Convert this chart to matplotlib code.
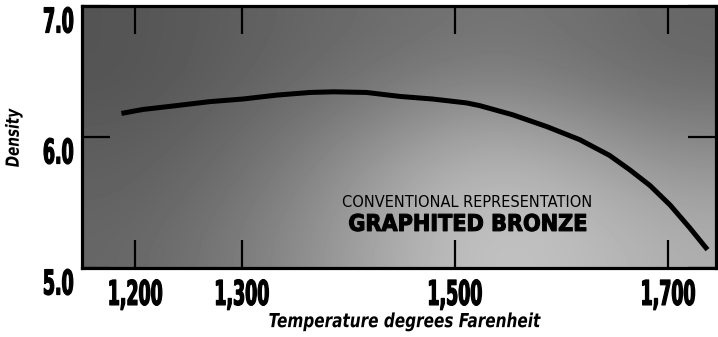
import numpy as np
import matplotlib
matplotlib.use("Agg")
import matplotlib.pyplot as plt
from matplotlib.patheffects import AbstractPathEffect
from matplotlib.transforms import Affine2D

# ---- data ----
temperature_f = [1187, 1207, 1239, 1270, 1301, 1333, 1364, 1386, 1417, 1448, 1479,
                 1511, 1523, 1554, 1586, 1617, 1645, 1664, 1683, 1702, 1720, 1737]
density = [6.18, 6.21, 6.24, 6.27, 6.29, 6.32, 6.34, 6.345, 6.34, 6.31, 6.29,
           6.26, 6.24, 6.17, 6.08, 5.98, 5.86, 5.75, 5.63, 5.48, 5.31, 5.14]

x_ticks = [1200, 1300, 1500, 1700]
x_tick_labels = ["1,200", "1,300", "1,500", "1,700"]
y_ticks = [5.0, 6.0, 7.0]
y_tick_labels = ["5.0", "6.0", "7.0"]

x_label = "Temperature degrees Farenheit"
y_label = "Density"
note_small = "CONVENTIONAL REPRESENTATION"
note_big = "GRAPHITED BRONZE"

# background shading (approximate average tone of the stipple)
shade = np.array([
    [0.33, 0.36, 0.40, 0.43, 0.46, 0.44, 0.40],
    [0.33, 0.37, 0.42, 0.48, 0.53, 0.48, 0.43],
    [0.36, 0.40, 0.48, 0.58, 0.66, 0.60, 0.52],
    [0.38, 0.43, 0.53, 0.66, 0.74, 0.70, 0.62],
    [0.40, 0.46, 0.56, 0.68, 0.77, 0.74, 0.68],
])


class Stretch(AbstractPathEffect):
    """Draw text glyphs tall/condensed and optionally heavier (text stays real text)."""

    def __init__(self, sx=1.0, sy=1.0, hanchor="center", vanchor="center", heavy=0.0):
        super().__init__()
        self.sx, self.sy = sx, sy
        self.hanchor, self.vanchor = hanchor, vanchor
        self.heavy = heavy

    def draw_path(self, renderer, gc, tpath, affine, rgbFace=None):
        ext = tpath.get_extents()
        cx = {"left": ext.x0, "right": ext.x1}.get(self.hanchor, 0.5 * (ext.x0 + ext.x1))
        cy = {"bottom": ext.y0, "top": ext.y1}.get(self.vanchor, 0.5 * (ext.y0 + ext.y1))
        t = (Affine2D().translate(-cx, -cy).scale(self.sx, self.sy)
             .translate(cx, cy))
        gc0 = renderer.new_gc()
        gc0.copy_properties(gc)
        if self.heavy > 0 and rgbFace is not None:
            gc0.set_linewidth(self.heavy)
            gc0.set_foreground(rgbFace)
            gc0.set_joinstyle("round")
        renderer.draw_path(gc0, tpath, t + affine, rgbFace)
        gc0.restore()


fig = plt.figure(figsize=(7.18, 3.37), dpi=100)
ax = fig.add_axes([82/718, 1 - 268/337, (716-82)/718, (268-6)/337])

xmin, xmax = 1150, 1745
ymin, ymax = 5.0, 7.0
ax.imshow(shade, cmap="gray", vmin=0, vmax=1, extent=[xmin, xmax, ymin, ymax],
          aspect="auto", interpolation="bicubic", origin="upper", zorder=0)

ax.plot(temperature_f, density, color="black", lw=3.6, solid_capstyle="butt",
        solid_joinstyle="round", zorder=3)

ax.set_xlim(xmin, xmax)
ax.set_ylim(ymin, ymax)

ax.set_xticks(x_ticks)
ax.set_xticklabels(x_tick_labels, fontsize=12.5, fontweight="bold", family="DejaVu Sans")
ax.set_yticks(y_ticks)
ax.set_yticklabels(y_tick_labels, fontsize=12.5, fontweight="bold", family="DejaVu Sans",
                   va="top")
for lab in ax.get_xticklabels():
    lab.set_path_effects([Stretch(1.0, 1.97, "center", "top", heavy=0.9)])
for lab in ax.get_yticklabels():
    lab.set_path_effects([Stretch(1.0, 1.97, "right", "top", heavy=0.9)])

ax.tick_params(axis="both", direction="in", length=20, width=1.6, color="black",
               top=True, right=True)
ax.tick_params(axis="x", pad=7.5)
ax.tick_params(axis="y", pad=6)

for s in ax.spines.values():
    s.set_linewidth(2.3)
    s.set_color("black")

xl = ax.set_xlabel(x_label, fontsize=11, fontweight="bold", style="italic",
                   family="DejaVu Sans")
xl.set_path_effects([Stretch(1.0, 1.27, "center", "top")])
ax.xaxis.set_label_coords(0.508, -0.168)

yl = ax.set_ylabel(y_label, fontsize=9.8, fontweight="bold", style="italic",
                   family="DejaVu Sans")
yl.set_path_effects([Stretch(1.0, 1.33, "center", "center")])
ax.yaxis.set_label_coords(-0.097, 0.496)

ax.text(1511, 5.50, note_small, fontsize=10.5, family="DejaVu Sans", ha="center",
        va="center", color="black", zorder=4)
big = ax.text(1512, 5.335, note_big, fontsize=15, fontweight="bold", family="DejaVu Sans",
              ha="center", va="center", color="black", zorder=4)
big.set_path_effects([Stretch(1.0, 1.1, "center", "center", heavy=0.8)])

fig.savefig("out.png", dpi=100)
